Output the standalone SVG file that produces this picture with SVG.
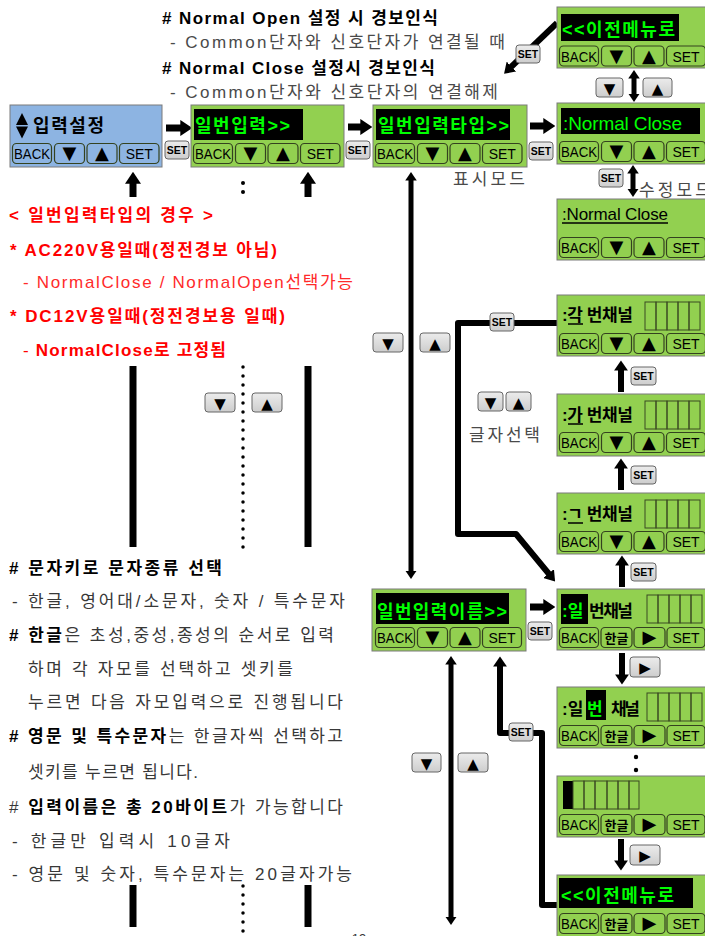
<svg xmlns="http://www.w3.org/2000/svg" width="705" height="936" viewBox="0 0 705 936">
<defs>
<linearGradient id="gg" x1="0" y1="0" x2="0" y2="1"><stop offset="0" stop-color="#ececec"/><stop offset="1" stop-color="#cdcdcd"/></linearGradient>
<marker id="ah" markerUnits="strokeWidth" markerWidth="1.7" markerHeight="2.3" refX="0.1" refY="1.15" orient="auto-start-reverse"><path d="M0,0 L1.7,1.15 L0,2.3 z" fill="#000"/></marker>
<style>
.bg{fill:#92d050;stroke:#7a7a7a;stroke-width:1}
.bb{fill:#8db4e2;stroke:#7a7a7a;stroke-width:1}
.kb{fill:none;stroke:#34421f;stroke-width:1.2}
.kt{font-family:"Liberation Sans",sans-serif;font-size:14px;fill:#000;text-anchor:middle}
.kh{font-family:"Noto Sans CJK KR",sans-serif;font-size:13px;font-weight:bold;fill:#000;text-anchor:middle}
.tri{font-family:"DejaVu Sans",sans-serif;font-size:18px;fill:#000;text-anchor:middle;transform:translate(0px,-0.5px)}
.bar{fill:#000}
.gl{font-family:"Liberation Sans","Noto Sans CJK KR",sans-serif;font-size:18px;font-weight:bold;fill:#00ff00}
.dk{font-family:"Liberation Sans","Noto Sans CJK KR",sans-serif;font-size:17px;font-weight:bold;fill:#000}
.cell{fill:none;stroke:#3a4a22;stroke-width:1}
.gb{fill:url(#gg);stroke:#666;stroke-width:1}
.gbt{font-family:"Liberation Sans",sans-serif;font-size:10.5px;font-weight:bold;fill:#000;text-anchor:middle}
.gtri{font-family:"DejaVu Sans",sans-serif;font-size:15px;fill:#000;text-anchor:middle}
.ln{fill:none;stroke:#000;stroke-linejoin:round}
.w7{stroke-width:7}.w6{stroke-width:6}.w5{stroke-width:5}
.dots{fill:none;stroke:#000;stroke-width:3.5;stroke-linecap:round;stroke-dasharray:0 9}
.hd{font-family:"Liberation Sans","Noto Sans CJK KR",sans-serif;font-size:17px}
.b{font-weight:bold}
.gray{fill:#4a4a4a}
.red{fill:#ff0000}
.lred{fill:#ff2a2a}
.blk{fill:#000}
.dg{fill:#383838}
.ul{stroke:#000;stroke-width:1.5}
</style>
</defs>
<rect width="705" height="936" fill="#fff"/>

<g id="notes-top">
<text class="hd b blk" x="162" y="24" textLength="276" lengthAdjust="spacing"># Normal Open 설정 시 경보인식</text>
<text class="hd gray" x="170" y="48" textLength="335" lengthAdjust="spacing">- Common단자와 신호단자가 연결될 때</text>
<text class="hd b blk" x="162" y="74" textLength="273" lengthAdjust="spacing"># Normal Close 설정시 경보인식</text>
<text class="hd gray" x="170" y="98" textLength="328" lengthAdjust="spacing">- Common단자와 신호단자의 연결해제</text>
</g>

<g id="notes-red">
<text class="hd b red" x="9" y="221" textLength="204" lengthAdjust="spacing">&lt; 일번입력타입의 경우 &gt;</text>
<text class="hd b red" x="10" y="256" textLength="267" lengthAdjust="spacing">* AC220V용일때(정전경보 아님)</text>
<text class="hd lred" x="23" y="288" textLength="330" lengthAdjust="spacing">- NormalClose / NormalOpen선택가능</text>
<text class="hd b red" x="10" y="322" textLength="275" lengthAdjust="spacing">* DC12V용일때(정전경보용 일때)</text>
<text class="hd red" x="23" y="356" textLength="203" lengthAdjust="spacing">- <tspan class="b">NormalClose로 고정됨</tspan></text>
</g>

<g id="notes-bottom">
<text class="hd b blk" x="9" y="574" textLength="213" lengthAdjust="spacing"># 문자키로 문자종류 선택</text>
<text class="hd dg" x="12" y="607" textLength="333" lengthAdjust="spacing">- 한글, 영어대/소문자, 숫자 / 특수문자</text>
<text class="hd dg" x="9" y="641" textLength="325" lengthAdjust="spacing"><tspan class="b blk"># 한글</tspan>은 초성,중성,종성의 순서로 입력</text>
<text class="hd dg" x="28" y="675" textLength="265" lengthAdjust="spacing">하며 각 자모를 선택하고 셋키를</text>
<text class="hd dg" x="28" y="708" textLength="315" lengthAdjust="spacing">누르면 다음 자모입력으로 진행됩니다</text>
<text class="hd dg" x="9" y="742" textLength="334" lengthAdjust="spacing"><tspan class="b blk"># 영문 및 특수문자</tspan>는 한글자씩 선택하고</text>
<text class="hd dg" x="28" y="778" textLength="170" lengthAdjust="spacing">셋키를 누르면 됩니다.</text>
<text class="hd dg" x="9" y="813" textLength="334" lengthAdjust="spacing"># <tspan class="b blk">입력이름은 총 20바이트</tspan>가 가능합니다</text>
<text class="hd dg" x="12" y="847" textLength="218" lengthAdjust="spacing">-  한글만 입력시 10글자</text>
<text class="hd dg" x="12" y="880" textLength="340" lengthAdjust="spacing">- 영문 및 숫자, 특수문자는 20글자가능</text>
<text class="hd dg" x="359" y="943" text-anchor="middle" style="font-size:13px">-19-</text>
</g>

<g id="labels">
<text class="hd gray" x="453" y="185" textLength="72" lengthAdjust="spacing">표시모드</text>
<text class="hd gray" x="639" y="196" textLength="72" lengthAdjust="spacing">수정모드</text>
<text class="hd gray" x="469" y="441" textLength="71" lengthAdjust="spacing">글자선택</text>
</g>

<g id="connectors">
<path class="ln w7" d="M166,128 H181" marker-end="url(#ah)"/>
<path class="ln w7" d="M348,127 H361" marker-end="url(#ah)"/>
<path class="ln w7" d="M530,126 H544" marker-end="url(#ah)"/>
<path class="ln w7" d="M530,607 H544" marker-end="url(#ah)"/>
<path class="ln w7" d="M133,197 V183" marker-end="url(#ah)"/>
<path class="ln w7" d="M308,197 V183" marker-end="url(#ah)"/>
<path class="ln w7" d="M133,366 V547"/>
<path class="ln w7" d="M308,366 V547"/>
<path class="ln w7" d="M133,885 V927"/>
<path class="ln w7" d="M308,885 V927"/>
<path class="dots" d="M243,367 V550"/>
<path class="dots" d="M243,886 V936"/>
<circle cx="243" cy="183" r="2"/>
<circle cx="243" cy="192" r="2"/>
<circle cx="636" cy="757" r="2.2"/>
<circle cx="636" cy="770" r="2.2"/>
<path class="ln w5" d="M411,180 V571" marker-start="url(#ah)" marker-end="url(#ah)"/>
<path class="ln w5" d="M451,664 V917" marker-start="url(#ah)" marker-end="url(#ah)"/>
<path class="ln w6" d="M557,905 H542 V733 H500 V666" marker-end="url(#ah)"/>
<path class="ln w6" d="M557,323 H458 V534 H516 L549,574" marker-end="url(#ah)"/>
<path class="ln w6" d="M557,23 L511,67" marker-end="url(#ah)"/>
<path class="ln w5" d="M634,78 V94" marker-start="url(#ah)" marker-end="url(#ah)"/>
<path class="ln w5" d="M633,173 V189" marker-start="url(#ah)" marker-end="url(#ah)"/>
<path class="ln w6" d="M621,392 V370" marker-end="url(#ah)"/>
<path class="ln w6" d="M621,490 V468" marker-end="url(#ah)"/>
<path class="ln w6" d="M622,587 V565" marker-end="url(#ah)"/>
<path class="ln w6" d="M622,653 V675" marker-end="url(#ah)"/>
<path class="ln w6" d="M621,839 V861" marker-end="url(#ah)"/>
</g>

<g id="keys">
<rect class="gb" x="165" y="141" width="24" height="18" rx="3"/><text class="gbt" x="177" y="154">SET</text>
<rect class="gb" x="346" y="141" width="24" height="18" rx="3"/><text class="gbt" x="358" y="154">SET</text>
<rect class="gb" x="529" y="142" width="24" height="18" rx="3"/><text class="gbt" x="541" y="155">SET</text>
<rect class="gb" x="516" y="45" width="24" height="18" rx="3"/><text class="gbt" x="528" y="58">SET</text>
<rect class="gb" x="599" y="169" width="24" height="18" rx="3"/><text class="gbt" x="611" y="182">SET</text>
<rect class="gb" x="490" y="313" width="24" height="18" rx="3"/><text class="gbt" x="502" y="326">SET</text>
<rect class="gb" x="631" y="367" width="25" height="18" rx="3"/><text class="gbt" x="643.5" y="380">SET</text>
<rect class="gb" x="631" y="466" width="25" height="18" rx="3"/><text class="gbt" x="643.5" y="479">SET</text>
<rect class="gb" x="631" y="563" width="25" height="18" rx="3"/><text class="gbt" x="643.5" y="576">SET</text>
<rect class="gb" x="528" y="622" width="24" height="18" rx="3"/><text class="gbt" x="540" y="635">SET</text>
<rect class="gb" x="509" y="723" width="24" height="18" rx="3"/><text class="gbt" x="521" y="736">SET</text>
<rect class="gb" x="596" y="78" width="27" height="19" rx="3"/><text class="gtri" x="609.5" y="93.5">▼</text>
<rect class="gb" x="643" y="78" width="29" height="19" rx="3"/><text class="gtri" x="657.5" y="93.5">▲</text>
<rect class="gb" x="205" y="393" width="30" height="19" rx="3"/><text class="gtri" x="220" y="408.5">▼</text>
<rect class="gb" x="252" y="393" width="30" height="19" rx="3"/><text class="gtri" x="267" y="408.5">▲</text>
<rect class="gb" x="373" y="333" width="30" height="19" rx="3"/><text class="gtri" x="388" y="348.5">▼</text>
<rect class="gb" x="420" y="333" width="30" height="19" rx="3"/><text class="gtri" x="435" y="348.5">▲</text>
<rect class="gb" x="478" y="392" width="25" height="19" rx="3"/><text class="gtri" x="490.5" y="407.5">▼</text>
<rect class="gb" x="506" y="392" width="25" height="19" rx="3"/><text class="gtri" x="518.5" y="407.5">▲</text>
<rect class="gb" x="412" y="753" width="29" height="19" rx="3"/><text class="gtri" x="426.5" y="768.5">▼</text>
<rect class="gb" x="458" y="753" width="30" height="19" rx="3"/><text class="gtri" x="473" y="768.5">▲</text>
<rect class="gb" x="630" y="657" width="30" height="20" rx="3"/><text class="gtri" x="645" y="673">▶</text>
<rect class="gb" x="630" y="845" width="30" height="20" rx="3"/><text class="gtri" x="645" y="861">▶</text>
</g>

<g id="n-input-setting">
<rect class="bb" x="10" y="105" width="152" height="62"/>
<polygon points="16,125 22,113 28,125" fill="#000"/>
<polygon points="16,126.5 28,126.5 22,138.5" fill="#000"/>
<text class="dk" x="33" y="132" textLength="71" lengthAdjust="spacing" style="font-size:18px">입력설정</text>
<rect class="kb" x="12.5" y="143.5" width="39" height="20" rx="4"/><text class="kt" x="32" y="159" textLength="36" lengthAdjust="spacingAndGlyphs">BACK</text>
<rect class="kb" x="54.5" y="143.5" width="30" height="20" rx="4"/><text class="tri" x="69.5" y="159.5">▼</text>
<rect class="kb" x="87" y="143.5" width="30" height="20" rx="4"/><text class="tri" x="102" y="159.5">▲</text>
<rect class="kb" x="119.5" y="143.5" width="39.5" height="20" rx="4"/><text class="kt" x="139.25" y="159">SET</text>
</g>

<g id="n-general-input">
<rect class="bg" x="191" y="105" width="153" height="62"/>
<rect class="bar" x="194" y="109" width="109" height="31"/>
<text class="gl" x="195" y="132" textLength="95" lengthAdjust="spacing">일번입력&gt;&gt;</text>
<rect class="kb" x="193.5" y="143.5" width="39" height="20" rx="4"/><text class="kt" x="213" y="159" textLength="36" lengthAdjust="spacingAndGlyphs">BACK</text>
<rect class="kb" x="235.5" y="143.5" width="30" height="20" rx="4"/><text class="tri" x="250.5" y="159.5">▼</text>
<rect class="kb" x="268" y="143.5" width="30" height="20" rx="4"/><text class="tri" x="283" y="159.5">▲</text>
<rect class="kb" x="300.5" y="143.5" width="39.5" height="20" rx="4"/><text class="kt" x="320.25" y="159">SET</text>
</g>

<g id="n-input-type">
<rect class="bg" x="373" y="105" width="154" height="62"/>
<rect class="bar" x="376" y="109" width="134" height="31"/>
<text class="gl" x="378" y="132" textLength="131" lengthAdjust="spacing">일번입력타입&gt;&gt;</text>
<rect class="kb" x="375.5" y="143.5" width="39" height="20" rx="4"/><text class="kt" x="395" y="159" textLength="36" lengthAdjust="spacingAndGlyphs">BACK</text>
<rect class="kb" x="417.5" y="143.5" width="30" height="20" rx="4"/><text class="tri" x="432.5" y="159.5">▼</text>
<rect class="kb" x="450" y="143.5" width="30" height="20" rx="4"/><text class="tri" x="465" y="159.5">▲</text>
<rect class="kb" x="482.5" y="143.5" width="39.5" height="20" rx="4"/><text class="kt" x="502.25" y="159">SET</text>
</g>

<g id="n-prev-menu-top">
<rect class="bg" x="557" y="7" width="160" height="61"/>
<rect class="bar" x="561" y="14" width="118" height="27"/>
<text class="gl" x="562" y="36" textLength="113" lengthAdjust="spacing">&lt;&lt;이전메뉴로</text>
<rect class="kb" x="559.5" y="46" width="39" height="20" rx="4"/><text class="kt" x="579" y="61.5" textLength="36" lengthAdjust="spacingAndGlyphs">BACK</text>
<rect class="kb" x="601.5" y="46" width="30" height="20" rx="4"/><text class="tri" x="616.5" y="62">▼</text>
<rect class="kb" x="634" y="46" width="30" height="20" rx="4"/><text class="tri" x="649" y="62">▲</text>
<rect class="kb" x="666.5" y="46" width="39" height="20" rx="4"/><text class="kt" x="686" y="61.5">SET</text>
</g>

<g id="n-normal-close-view">
<rect class="bg" x="557" y="103" width="160" height="61"/>
<rect class="bar" x="561" y="108" width="139" height="26"/>
<text x="563" y="130" textLength="119" lengthAdjust="spacing" style="font-family:'Liberation Sans',sans-serif;font-size:19px;fill:#00ff00">:Normal Close</text>
<rect class="kb" x="559.5" y="141.5" width="39" height="20" rx="4"/><text class="kt" x="579" y="157" textLength="36" lengthAdjust="spacingAndGlyphs">BACK</text>
<rect class="kb" x="601.5" y="141.5" width="30" height="20" rx="4"/><text class="tri" x="616.5" y="157.5">▼</text>
<rect class="kb" x="634" y="141.5" width="30" height="20" rx="4"/><text class="tri" x="649" y="157.5">▲</text>
<rect class="kb" x="666.5" y="141.5" width="39" height="20" rx="4"/><text class="kt" x="686" y="157">SET</text>
</g>

<g id="n-normal-close-edit">
<rect class="bg" x="557" y="199" width="160" height="61"/>
<text x="562" y="220" textLength="106" lengthAdjust="spacing" style="font-family:'Liberation Sans',sans-serif;font-size:17px;fill:#000">:Normal Close</text>
<line class="ul" x1="562" y1="223" x2="668" y2="223"/>
<rect class="kb" x="559.5" y="237.5" width="39" height="20" rx="4"/><text class="kt" x="579" y="253" textLength="36" lengthAdjust="spacingAndGlyphs">BACK</text>
<rect class="kb" x="601.5" y="237.5" width="30" height="20" rx="4"/><text class="tri" x="616.5" y="253.5">▼</text>
<rect class="kb" x="634" y="237.5" width="30" height="20" rx="4"/><text class="tri" x="649" y="253.5">▲</text>
<rect class="kb" x="666.5" y="237.5" width="39" height="20" rx="4"/><text class="kt" x="686" y="253">SET</text>
</g>

<g id="n-ch-gak">
<rect class="bg" x="557" y="295" width="160" height="61"/>
<text class="dk" x="562" y="321" textLength="71" lengthAdjust="spacing">:각 번채널</text>
<line class="ul" x1="568" y1="324" x2="583" y2="324"/>
<rect class="cell" x="645" y="302" width="11" height="28"/><rect class="cell" x="656" y="302" width="11" height="28"/><rect class="cell" x="667" y="302" width="11" height="28"/><rect class="cell" x="678" y="302" width="11" height="28"/><rect class="cell" x="689" y="302" width="11" height="28"/>
<rect class="kb" x="559.5" y="333.5" width="39" height="20" rx="4"/><text class="kt" x="579" y="349" textLength="36" lengthAdjust="spacingAndGlyphs">BACK</text>
<rect class="kb" x="601.5" y="333.5" width="30" height="20" rx="4"/><text class="tri" x="616.5" y="349.5">▼</text>
<rect class="kb" x="634" y="333.5" width="30" height="20" rx="4"/><text class="tri" x="649" y="349.5">▲</text>
<rect class="kb" x="666.5" y="333.5" width="39" height="20" rx="4"/><text class="kt" x="686" y="349">SET</text>
</g>

<g id="n-ch-ga">
<rect class="bg" x="557" y="394" width="160" height="62"/>
<text class="dk" x="562" y="421" textLength="71" lengthAdjust="spacing">:가 번채널</text>
<line class="ul" x1="568" y1="424" x2="583" y2="424"/>
<rect class="cell" x="645" y="401" width="11" height="28"/><rect class="cell" x="656" y="401" width="11" height="28"/><rect class="cell" x="667" y="401" width="11" height="28"/><rect class="cell" x="678" y="401" width="11" height="28"/><rect class="cell" x="689" y="401" width="11" height="28"/>
<rect class="kb" x="559.5" y="432.5" width="39" height="20" rx="4"/><text class="kt" x="579" y="448" textLength="36" lengthAdjust="spacingAndGlyphs">BACK</text>
<rect class="kb" x="601.5" y="432.5" width="30" height="20" rx="4"/><text class="tri" x="616.5" y="448.5">▼</text>
<rect class="kb" x="634" y="432.5" width="30" height="20" rx="4"/><text class="tri" x="649" y="448.5">▲</text>
<rect class="kb" x="666.5" y="432.5" width="39" height="20" rx="4"/><text class="kt" x="686" y="448">SET</text>
</g>

<g id="n-ch-g">
<rect class="bg" x="557" y="493" width="160" height="61"/>
<text class="dk" x="562" y="520" textLength="71" lengthAdjust="spacing">:ㄱ 번채널</text>
<line class="ul" x1="568" y1="523" x2="583" y2="523"/>
<rect class="cell" x="645" y="500" width="11" height="28"/><rect class="cell" x="656" y="500" width="11" height="28"/><rect class="cell" x="667" y="500" width="11" height="28"/><rect class="cell" x="678" y="500" width="11" height="28"/><rect class="cell" x="689" y="500" width="11" height="28"/>
<rect class="kb" x="559.5" y="531.5" width="39" height="20" rx="4"/><text class="kt" x="579" y="547" textLength="36" lengthAdjust="spacingAndGlyphs">BACK</text>
<rect class="kb" x="601.5" y="531.5" width="30" height="20" rx="4"/><text class="tri" x="616.5" y="547.5">▼</text>
<rect class="kb" x="634" y="531.5" width="30" height="20" rx="4"/><text class="tri" x="649" y="547.5">▲</text>
<rect class="kb" x="666.5" y="531.5" width="39" height="20" rx="4"/><text class="kt" x="686" y="547">SET</text>
</g>

<g id="n-input-name">
<rect class="bg" x="372" y="589" width="154" height="62"/>
<rect class="bar" x="376" y="593" width="133" height="31"/>
<text class="gl" x="377" y="618" textLength="130" lengthAdjust="spacing">일번입력이름&gt;&gt;</text>
<rect class="kb" x="375.5" y="627.5" width="39" height="20" rx="4"/><text class="kt" x="395" y="643" textLength="36" lengthAdjust="spacingAndGlyphs">BACK</text>
<rect class="kb" x="417.5" y="627.5" width="30" height="20" rx="4"/><text class="tri" x="432.5" y="643.5">▼</text>
<rect class="kb" x="450" y="627.5" width="30" height="20" rx="4"/><text class="tri" x="465" y="643.5">▲</text>
<rect class="kb" x="482.5" y="627.5" width="39" height="20" rx="4"/><text class="kt" x="502" y="643">SET</text>
</g>

<g id="n-name-1">
<rect class="bg" x="557" y="589" width="160" height="61"/>
<rect class="bar" x="561" y="594" width="27" height="30"/>
<text class="gl" x="562" y="617" style="font-size:17px">:일</text>
<text class="dk" x="589" y="617" textLength="44" lengthAdjust="spacing">번채널</text>
<rect class="cell" x="647" y="595" width="11" height="28"/><rect class="cell" x="658" y="595" width="11" height="28"/><rect class="cell" x="669" y="595" width="11" height="28"/><rect class="cell" x="680" y="595" width="11" height="28"/><rect class="cell" x="691" y="595" width="11" height="28"/>
<rect class="kb" x="559.5" y="627.5" width="39" height="20" rx="4"/><text class="kt" x="579" y="643" textLength="36" lengthAdjust="spacingAndGlyphs">BACK</text>
<rect class="kb" x="601" y="627.5" width="31" height="20" rx="4"/><text class="kh" x="616.5" y="642.5">한글</text>
<rect class="kb" x="634" y="627.5" width="31" height="20" rx="4"/><text class="tri" x="649.5" y="643.5">▶</text>
<rect class="kb" x="667" y="627.5" width="38" height="20" rx="4"/><text class="kt" x="686" y="643">SET</text>
</g>

<g id="n-name-2">
<rect class="bg" x="557" y="687" width="160" height="61"/>
<text class="dk" x="562" y="715">:일</text>
<rect class="bar" x="586" y="690" width="20" height="30"/>
<text class="gl" x="587" y="715" style="font-size:17px">번</text>
<text class="dk" x="611" y="715" textLength="29" lengthAdjust="spacing">채널</text>
<rect class="cell" x="647" y="693" width="11" height="28"/><rect class="cell" x="658" y="693" width="11" height="28"/><rect class="cell" x="669" y="693" width="11" height="28"/><rect class="cell" x="680" y="693" width="11" height="28"/><rect class="cell" x="691" y="693" width="11" height="28"/>
<rect class="kb" x="559.5" y="725.5" width="39" height="20" rx="4"/><text class="kt" x="579" y="741" textLength="36" lengthAdjust="spacingAndGlyphs">BACK</text>
<rect class="kb" x="601" y="725.5" width="31" height="20" rx="4"/><text class="kh" x="616.5" y="740.5">한글</text>
<rect class="kb" x="634" y="725.5" width="31" height="20" rx="4"/><text class="tri" x="649.5" y="741.5">▶</text>
<rect class="kb" x="667" y="725.5" width="38" height="20" rx="4"/><text class="kt" x="686" y="741">SET</text>
</g>

<g id="n-name-last">
<rect class="bg" x="557" y="776" width="160" height="61"/>
<rect x="563" y="781" width="10" height="28" fill="#000"/>
<rect class="cell" x="573" y="781" width="11" height="28"/><rect class="cell" x="584" y="781" width="11" height="28"/><rect class="cell" x="595" y="781" width="12" height="28"/><rect class="cell" x="607" y="781" width="11" height="28"/><rect class="cell" x="618" y="781" width="11" height="28"/><rect class="cell" x="629" y="781" width="10" height="28"/>
<rect class="kb" x="559.5" y="814.5" width="39" height="20" rx="4"/><text class="kt" x="579" y="830" textLength="36" lengthAdjust="spacingAndGlyphs">BACK</text>
<rect class="kb" x="601" y="814.5" width="31" height="20" rx="4"/><text class="kh" x="616.5" y="829.5">한글</text>
<rect class="kb" x="634" y="814.5" width="31" height="20" rx="4"/><text class="tri" x="649.5" y="830.5">▶</text>
<rect class="kb" x="667" y="814.5" width="38" height="20" rx="4"/><text class="kt" x="686" y="830">SET</text>
</g>

<g id="n-prev-menu-bottom">
<rect class="bg" x="557" y="875" width="160" height="70"/>
<rect class="bar" x="559" y="878" width="134" height="30"/>
<text class="gl" x="561" y="902" textLength="113" lengthAdjust="spacing">&lt;&lt;이전메뉴로</text>
<rect class="kb" x="559.5" y="913.5" width="39" height="20" rx="4"/><text class="kt" x="579" y="929" textLength="36" lengthAdjust="spacingAndGlyphs">BACK</text>
<rect class="kb" x="601" y="913.5" width="31" height="20" rx="4"/><text class="kh" x="616.5" y="928.5">한글</text>
<rect class="kb" x="634" y="913.5" width="31" height="20" rx="4"/><text class="tri" x="649.5" y="929.5">▶</text>
<rect class="kb" x="667" y="913.5" width="38" height="20" rx="4"/><text class="kt" x="686" y="929">SET</text>
</g>
</svg>
